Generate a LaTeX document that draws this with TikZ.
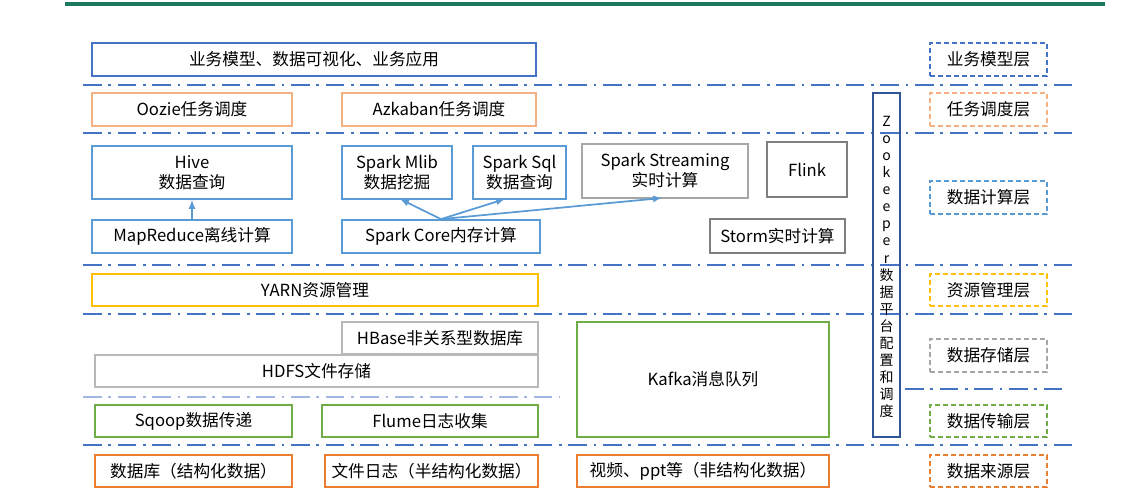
\documentclass[tikz,border=0pt]{standalone}
\usepackage{fontspec}
\setmainfont{Noto Sans CJK SC}
\begin{document}
\begin{tikzpicture}[x=0.75pt,y=-0.75pt,
  bx/.style={draw=#1,line width=1.3pt,inner sep=0pt,font=\fontsize{12.5}{15}\selectfont,align=center},
  lab/.style={draw=#1,line width=1.3pt,dashed,dash pattern=on 4pt off 2pt,inner sep=0pt,font=\fontsize{12.5}{15}\selectfont},
  sep/.style={draw=c1,line width=1.4pt,dash pattern=on 14pt off 5pt on 2pt off 5pt},
  ar/.style={draw=c2,line width=1.3pt,-latex}]
\definecolor{c1}{HTML}{4472C4}\definecolor{c2}{HTML}{5B9BD5}\definecolor{or}{HTML}{F4B183}
\definecolor{or2}{HTML}{ED7D31}\definecolor{ye}{HTML}{FFC000}\definecolor{gr}{HTML}{70AD47}
\definecolor{gy}{HTML}{A6A6A6}\definecolor{gy2}{HTML}{7F7F7F}\definecolor{zk}{HTML}{2F5597}
\definecolor{tl}{HTML}{1B7A5E}
\useasboundingbox (0,0) rectangle (1139,500);
\fill[white] (0,0) rectangle (1139,500);
\draw[tl,line width=2.5pt] (65,4) -- (1105,4);
\foreach \y in {85,133,265,314,445} \draw[sep] (83,\y) -- (1075,\y);
\draw[sep,draw=c1!50] (83,397) -- (560,397);
\draw[sep] (905,389) -- (1065,389);
\newcommand\mybox[6]{\node[bx=#1,minimum width=#4*0.75pt-#2*0.75pt,minimum height=#5*0.75pt-#3*0.75pt] (#6) at ({(#2+#4)/2},{(#3+#5)/2})}
\mybox{c1}{92}{43}{536}{76}{app}{业务模型、数据可视化、业务应用};
\mybox{or}{92}{93}{292}{126}{oozie}{Oozie任务调度};
\mybox{or}{342}{93}{536}{126}{azk}{Azkaban任务调度};
\mybox{c2}{92}{146}{292}{199}{hive}{Hive\\数据查询};
\mybox{c2}{342}{146}{452}{199}{mlib}{Spark Mlib\\数据挖掘};
\mybox{c2}{473}{146}{566}{199}{sql}{Spark Sql\\数据查询};
\mybox{gy}{582}{144}{748}{198}{stream}{Spark Streaming\\实时计算};
\mybox{gy2}{767}{142}{847}{197}{flink}{Flink};
\mybox{c2}{92}{220}{292}{253}{mr}{MapReduce离线计算};
\mybox{c2}{342}{220}{540}{253}{core}{Spark Core内存计算};
\mybox{gy2}{710}{219}{845}{253}{storm}{Storm实时计算};
\mybox{ye}{92}{274}{538}{306}{yarn}{YARN资源管理};
\mybox{gy!80}{342}{322}{538}{354}{hbase}{HBase非关系型数据库};
\mybox{gy!80}{95}{355}{538}{387}{hdfs}{HDFS文件存储};
\mybox{gr}{577}{322}{829}{437}{kafka}{Kafka消息队列};
\mybox{gr}{95}{405}{292}{437}{sqoop}{Sqoop数据传递};
\mybox{gr}{322}{405}{538}{437}{flume}{Flume日志收集};
\mybox{or2}{95}{455}{292}{487}{db}{数据库（结构化数据）};
\mybox{or2}{325}{455}{538}{487}{log}{文件日志（半结构化数据）};
\mybox{or2}{577}{455}{829}{487}{video}{视频、ppt等（非结构化数据）};
\node[draw=zk,line width=1.5pt,minimum width=27*0.75pt,minimum height=344*0.75pt,inner sep=0pt] (zk) at (886.5,265) {};
\node[font=\fontsize{10.5}{12.8}\selectfont,align=center,inner sep=0pt] (zkt) at (886.5,267)
 {Z\\o\\o\\k\\e\\e\\p\\e\\r\\数\\据\\平\\台\\配\\置\\和\\调\\度};
\newcommand\mylab[4]{\node[lab=#1,minimum width=117*0.75pt,minimum height=#3*0.75pt-#2*0.75pt] (#4) at (988.5,{(#2+#3)/2})}
\mylab{c1}{43}{76}{l1}{业务模型层};
\mylab{or}{93}{126}{l2}{任务调度层};
\mylab{c2}{181}{214}{l3}{数据计算层};
\mylab{ye}{274}{306}{l4}{资源管理层};
\mylab{gy}{339}{372}{l5}{数据存储层};
\mylab{gr}{405}{437}{l6}{数据传输层};
\mylab{or2}{455}{487}{l7}{数据来源层};
\draw[ar] (mr.north) -- (hive.south);
\draw[ar] (core.north) -- (400,199);
\draw[ar] (core.north) -- (505,199);
\draw[ar] (core.north) -- (662,198);
\end{tikzpicture}
\end{document}
